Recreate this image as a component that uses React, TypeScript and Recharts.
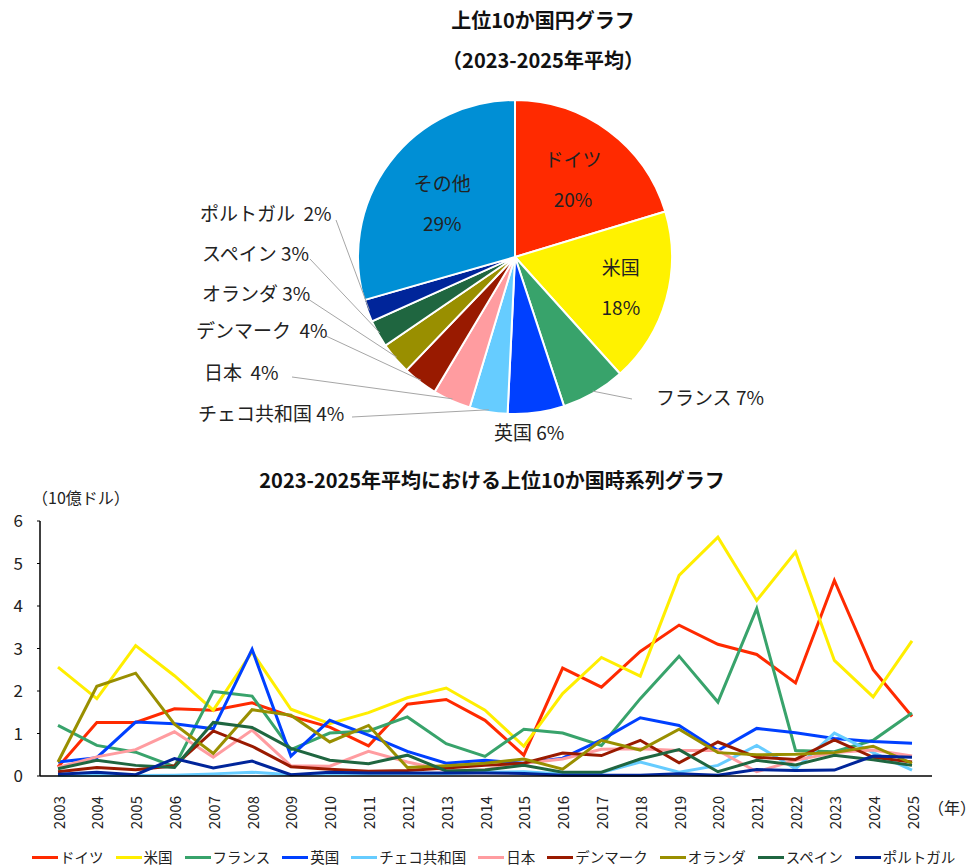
import React from 'react';
import { PieChart, Pie, Cell, LineChart, Line, XAxis, YAxis } from 'recharts';

// ---------- Pie data ----------
const pieNames = ['ドイツ', '米国', 'フランス', '英国', 'チェコ共和国', '日本', 'デンマーク', 'オランダ', 'スペイン', 'ポルトガル', 'その他'];
const pieValues = [20.3, 18.0, 6.6, 5.8, 3.9, 3.9, 3.6, 3.3, 2.8, 2.3, 29.4];
const pieColors = ['#FF2A00', '#FFF200', '#38A36B', '#0040FF', '#66CCFF', '#FF9CA0', '#991A00', '#998F00', '#1F6640', '#00259A', '#008FD5'];

// ---------- Line data ----------
const years = ['2003', '2004', '2005', '2006', '2007', '2008', '2009', '2010', '2011', '2012', '2013', '2014', '2015', '2016', '2017', '2018', '2019', '2020', '2021', '2022', '2023', '2024', '2025'];
const germany = [0.21, 1.26, 1.26, 1.58, 1.55, 1.72, 1.41, 1.15, 0.71, 1.69, 1.80, 1.31, 0.49, 2.54, 2.09, 2.93, 3.55, 3.10, 2.86, 2.19, 4.60, 2.50, 1.40];
const usa = [2.56, 1.82, 3.07, 2.36, 1.55, 2.92, 1.57, 1.23, 1.49, 1.84, 2.07, 1.55, 0.70, 1.94, 2.79, 2.35, 4.72, 5.62, 4.13, 5.27, 2.72, 1.86, 3.18];
const france = [1.19, 0.72, 0.56, 0.22, 1.99, 1.88, 0.62, 1.01, 1.06, 1.39, 0.76, 0.46, 1.10, 1.01, 0.72, 1.82, 2.82, 1.74, 3.94, 0.60, 0.57, 0.84, 1.48];
const uk = [0.33, 0.43, 1.27, 1.23, 1.11, 2.98, 0.47, 1.31, 0.96, 0.58, 0.30, 0.37, 0.30, 0.42, 0.85, 1.37, 1.19, 0.60, 1.12, 1.02, 0.88, 0.81, 0.77];
const czech = [0.01, 0.01, 0.01, 0.02, 0.05, 0.09, 0.03, 0.05, 0.05, 0.06, 0.06, 0.09, 0.10, 0.05, 0.08, 0.33, 0.09, 0.25, 0.72, 0.17, 1.01, 0.55, 0.14];
const japan = [0.20, 0.45, 0.62, 1.04, 0.44, 1.08, 0.24, 0.23, 0.58, 0.33, 0.13, 0.15, 0.30, 0.40, 0.63, 0.64, 0.60, 0.60, 0.10, 0.37, 0.55, 0.61, 0.47];
const denmark = [0.10, 0.20, 0.15, 0.24, 1.06, 0.70, 0.22, 0.16, 0.11, 0.13, 0.19, 0.25, 0.30, 0.54, 0.48, 0.84, 0.31, 0.80, 0.44, 0.39, 0.85, 0.44, 0.33];
const netherlands = [0.33, 2.11, 2.42, 1.22, 0.53, 1.56, 1.43, 0.80, 1.19, 0.20, 0.24, 0.30, 0.40, 0.16, 0.84, 0.61, 1.10, 0.55, 0.50, 0.51, 0.55, 0.70, 0.30];
const spain = [0.17, 0.37, 0.25, 0.20, 1.26, 1.14, 0.65, 0.37, 0.29, 0.49, 0.12, 0.14, 0.25, 0.09, 0.09, 0.40, 0.62, 0.10, 0.37, 0.26, 0.49, 0.38, 0.25];
const portugal = [0.04, 0.09, 0.03, 0.41, 0.19, 0.35, 0.03, 0.09, 0.07, 0.07, 0.07, 0.07, 0.06, 0.02, 0.02, 0.02, 0.05, 0.02, 0.15, 0.13, 0.14, 0.47, 0.44];

const seriesKeys = ['germany', 'usa', 'france', 'uk', 'czech', 'japan', 'denmark', 'netherlands', 'spain', 'portugal'];
const seriesNames = ['ドイツ', '米国', 'フランス', '英国', 'チェコ共和国', '日本', 'デンマーク', 'オランダ', 'スペイン', 'ポルトガル'];
const seriesColors = ['#FF2A00', '#FFEE00', '#38A36B', '#0040FF', '#66CCFF', '#FF9CA0', '#991A00', '#998F00', '#1F6640', '#00259A'];
const seriesValues = [germany, usa, france, uk, czech, japan, denmark, netherlands, spain, portugal];
const yTicks = [0, 1, 2, 3, 4, 5, 6];

const pieData = pieNames.map((name, i) => ({ name, value: pieValues[i] }));
const lineData = years.map((year, i) => {
  const row: Record<string, any> = { year };
  seriesKeys.forEach((k, j) => { row[k] = seriesValues[j][i]; });
  return row;
});

// ---------- Layout (label placement, not data) ----------
const FONT = '"Noto Sans CJK JP", "Noto Sans", sans-serif';
const NB = '\u00a0';
type LabelLayout = { inside?: boolean; rf?: number; tx?: number; ty?: number; sep?: string; lx?: number | null; ly?: number };
const pieLabelLayout: LabelLayout[] = [
  { inside: true, rf: 0.62 },
  { inside: true, rf: 0.70 },
  { tx: 656, ty: 396, sep: NB, lx: 632, ly: 399 },
  { tx: 494, ty: 431, sep: NB, lx: null },
  { tx: 198, ty: 412, sep: NB, lx: 352, ly: 417 },
  { tx: 204, ty: 371, sep: NB + NB, lx: 292, ly: 377 },
  { tx: 196, ty: 329, sep: NB + NB, lx: 326, ly: 336 },
  { tx: 202, ty: 292, sep: NB, lx: 308, ly: 299 },
  { tx: 202, ty: 252, sep: NB, lx: 310, ly: 259 },
  { tx: 200, ty: 212, sep: NB + NB, lx: 336, ly: 220 },
  { inside: true, rf: 0.58 },
];

const RAD = Math.PI / 180;

const renderPieLabel = (props: any) => {
  const { cx, cy, midAngle, outerRadius, percent, index, name } = props;
  const lay = pieLabelLayout[index];
  const pct = `${Math.round(percent * 100)}%`;
  const cos = Math.cos(-midAngle * RAD);
  const sin = Math.sin(-midAngle * RAD);
  if (lay.inside) {
    const r = outerRadius * (lay.rf as number);
    const x = cx + r * cos;
    const y = cy + r * sin;
    return (
      <g>
        <text x={x} y={y - 20} textAnchor="middle" dominantBaseline="central" fontSize={19} fill="#222" fontFamily={FONT}>{name}</text>
        <text x={x} y={y + 20} textAnchor="middle" dominantBaseline="central" fontSize={19} fill="#222" fontFamily={FONT}>{pct}</text>
      </g>
    );
  }
  const ex = cx + (outerRadius - 2) * cos;
  const ey = cy + (outerRadius - 2) * sin;
  return (
    <g>
      {lay.lx != null && (
        <line x1={lay.lx} y1={lay.ly} x2={ex} y2={ey} stroke="#A6A6A6" strokeWidth={1} />
      )}
      <text x={lay.tx} y={lay.ty} textAnchor="start" dominantBaseline="central" fontSize={19} fill="#222" fontFamily={FONT}>
        {name + lay.sep + pct}
      </text>
    </g>
  );
};

const XTick = (props: any) => {
  const { x, y, payload } = props;
  const ay = y + 12;
  return (
    <text x={x} y={ay} transform={`rotate(-90 ${x} ${ay})`} textAnchor="end" dominantBaseline="central" fontSize={15} fill="#222" fontFamily={FONT}>
      {payload.value}
    </text>
  );
};

export default function App() {
  return (
    <div style={{ position: 'absolute', left: 0, top: 0, width: 976, height: 868, overflow: 'hidden', background: '#fff', fontFamily: FONT }}>
      <div style={{ position: 'absolute', left: 343, width: 400, top: 6, textAlign: 'center', fontSize: 20, fontWeight: 'bold', lineHeight: '28px', color: '#111' }}>
        上位10か国円グラフ
      </div>
      <div style={{ position: 'absolute', left: 343, width: 400, top: 46, textAlign: 'center', fontSize: 20, fontWeight: 'bold', lineHeight: '28px', color: '#111' }}>
        （2023-2025年平均）
      </div>
      <div style={{ position: 'absolute', left: 0, top: 0 }}>
        <PieChart width={976} height={450} margin={{ top: 0, right: 0, bottom: 0, left: 0 }}>
          <Pie
            data={pieData}
            dataKey="value"
            nameKey="name"
            cx={515}
            cy={257}
            outerRadius={157}
            startAngle={90}
            endAngle={-270}
            stroke="#fff"
            strokeWidth={2}
            label={renderPieLabel}
            labelLine={false}
            isAnimationActive={false}
          >
            {pieData.map((d, i) => (
              <Cell key={d.name} fill={pieColors[i]} />
            ))}
          </Pie>
        </PieChart>
      </div>

      <div style={{ position: 'absolute', left: 242, width: 500, top: 466, textAlign: 'center', fontSize: 20, fontWeight: 'bold', lineHeight: '28px', color: '#111' }}>
        2023-2025年平均における上位10か国時系列グラフ
      </div>
      <div style={{ position: 'absolute', left: 32, top: 485, fontSize: 16, lineHeight: '24px', color: '#222' }}>
        （10億ドル）
      </div>
      <div style={{ position: 'absolute', left: 928, top: 795, fontSize: 16, lineHeight: '24px', color: '#222' }}>
        （年）
      </div>

      <div style={{ position: 'absolute', left: 0, top: 450 }}>
        <LineChart width={976} height={418} data={lineData} margin={{ top: 71, right: 44, bottom: 42, left: 10 }}>
          <XAxis
            dataKey="year"
            interval={0}
            padding={{ left: 18, right: 20 }}
            axisLine={{ stroke: '#000', strokeWidth: 1.5 }}
            tickLine={false}
            tick={<XTick />}
            height={50}
          />
          <XAxis
            xAxisId="top"
            dataKey="year"
            orientation="top"
            axisLine={{ stroke: '#6b6b6b', strokeWidth: 1.5 }}
            tickLine={false}
            tick={false}
            height={0}
          />
          <YAxis
            domain={[0, 6]}
            ticks={yTicks}
            interval={0}
            width={30}
            axisLine={{ stroke: '#000', strokeWidth: 1.5 }}
            tickLine={{ stroke: '#000' }}
            tickSize={3}
            tickMargin={14}
            tick={{ fontSize: 17, fill: '#222', fontFamily: FONT }}
          />
          <YAxis
            yAxisId="right"
            orientation="right"
            domain={[0, 6]}
            width={0}
            axisLine={{ stroke: '#6b6b6b', strokeWidth: 1.5 }}
            tickLine={false}
            tick={false}
          />
          {seriesKeys.map((k, i) => (
            <Line
              key={k}
              type="linear"
              dataKey={k}
              name={seriesNames[i]}
              stroke={seriesColors[i]}
              strokeWidth={3}
              dot={false}
              activeDot={false}
              isAnimationActive={false}
            />
          ))}
        </LineChart>
      </div>

      <div style={{ position: 'absolute', left: 32, top: 847, display: 'flex', alignItems: 'center', whiteSpace: 'nowrap', fontSize: 14.5, lineHeight: '20px', color: '#222' }}>
        {seriesNames.map((n, i) => (
          <div key={n} style={{ display: 'flex', alignItems: 'center', marginRight: 12 }}>
            <span style={{ display: 'inline-block', width: 26, height: 3, background: seriesColors[i], marginRight: 2 }} />
            <span>{n}</span>
          </div>
        ))}
      </div>
    </div>
  );
}
